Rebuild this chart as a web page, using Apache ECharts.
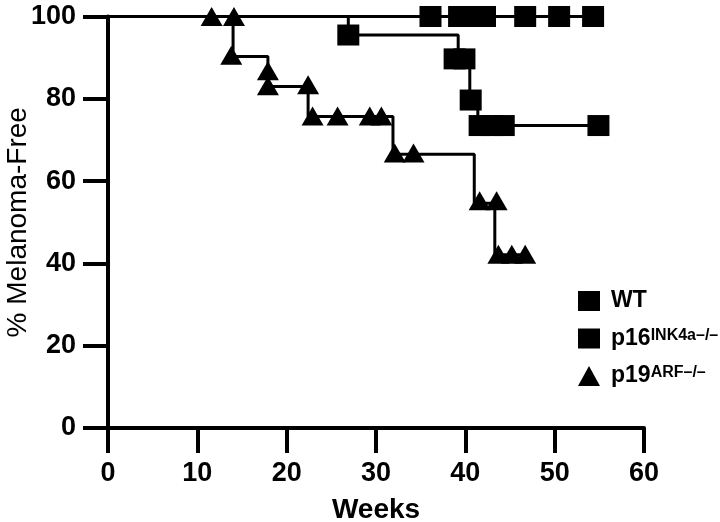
<!DOCTYPE html>
<html><head><meta charset="utf-8">
<script src="https://cdn.jsdelivr.net/npm/echarts@6/dist/echarts.min.js"></script>
<style>html,body{margin:0;padding:0;background:#fff}#c{width:720px;height:522px}</style>
</head><body><div id="c"></div>
<script>
const xTicks = [0, 10, 20, 30, 40, 50, 60];
const yTicks = [0, 20, 40, 60, 80, 100];
const seriesNames = ['WT', 'p16', 'p19'];
const legendMain = {WT: 'WT', p16: 'p16', p19: 'p19'};
const legendSup = {WT: '', p16: 'INK4a\u2013/\u2013', p19: 'ARF\u2013/\u2013'};
const wtCurve = [[0, 100], [54.3, 100]];
const wtMarks = [[36.1, 100], [39.3, 100], [40.7, 100], [42.2, 100], [46.7, 100], [50.5, 100], [54.3, 100]];
const p16Curve = [[0, 100], [26.9, 95.5], [39.2, 89.7], [40.5, 79.7], [41.4, 73.5], [54.9, 73.5]];
const p16Marks = [[26.9, 95.5], [38.8, 89.7], [39.9, 89.7], [40.6, 79.7], [41.6, 73.5], [43.0, 73.5], [44.3, 73.5], [54.9, 73.5]];
const p19Curve = [[0, 100], [14.0, 90.3], [17.9, 83.0], [22.4, 75.7], [31.9, 66.5], [41.0, 54.6], [43.3, 42.1], [46.7, 42.1]];
const p19Marks = [[11.6, 100], [14.1, 100], [13.8, 90.6], [17.9, 86.8], [17.9, 83.2], [22.4, 83.4], [22.9, 75.8], [25.7, 75.8], [29.3, 75.8], [30.6, 75.8], [32.1, 66.8], [34.2, 66.8], [41.6, 55.2], [43.5, 55.2], [43.7, 42.2], [45.2, 42.2], [46.7, 42.2]];

const FONT = "'Liberation Sans', Arial, Helvetica, sans-serif";
const chart = echarts.init(document.getElementById('c'), null, {renderer: 'canvas'});

function curve(data) {
  return {type: 'line', data: data, step: 'end', showSymbol: false, symbol: 'none', clip: false,
    lineStyle: {color: '#000', width: 3}, z: 2, silent: true, animation: false};
}
function marks(name, data, symbol, size) {
  return {type: 'scatter', name: name, data: data, symbol: symbol, symbolSize: size, clip: false,
    itemStyle: {color: '#000', opacity: 1}, z: 3, silent: true, animation: false};
}

chart.setOption({
  animation: false,
  backgroundColor: '#fff',
  grid: {left: 108, right: 76, top: 16.5, bottom: 94, containLabel: false, outerBoundsMode: 'none'},
  xAxis: {
    type: 'value', min: xTicks[0], max: xTicks[xTicks.length - 1], interval: 10,
    name: 'Weeks', nameLocation: 'middle', nameGap: 68, nameMoveOverlap: false,
    nameTextStyle: {fontFamily: FONT, fontWeight: 'bold', fontSize: 28, color: '#000'},
    axisLine: {show: true, lineStyle: {color: '#000', width: 4}},
    axisTick: {show: true, length: 25, lineStyle: {color: '#000', width: 4}},
    axisLabel: {margin: 32, fontFamily: FONT, fontWeight: 'bold', fontSize: 27, color: '#000'},
    splitLine: {show: false}
  },
  yAxis: {
    type: 'value', min: yTicks[0], max: yTicks[yTicks.length - 1], interval: 20,
    name: '% Melanoma-Free', nameLocation: 'middle', nameGap: 76, nameMoveOverlap: false,
    nameTextStyle: {fontFamily: FONT, fontWeight: 'normal', fontSize: 28, color: '#000'},
    axisLine: {show: true, lineStyle: {color: '#000', width: 4}},
    axisTick: {show: true, length: 25, lineStyle: {color: '#000', width: 4}},
    axisLabel: {margin: 32, fontFamily: FONT, fontWeight: 'bold', fontSize: 27, color: '#000'},
    splitLine: {show: false}
  },
  legend: {
    orient: 'vertical', left: 573, top: 284.5, itemWidth: 22, itemHeight: 20, itemGap: 14.5,
    data: [{name: seriesNames[0], icon: 'rect'}, {name: seriesNames[1], icon: 'rect'}, {name: seriesNames[2], icon: 'triangle'}],
    selectedMode: false,
    formatter: function (n) {
      return '{m|' + legendMain[n] + '}' + (legendSup[n] ? '{s|' + legendSup[n] + '}' : '');
    },
    textStyle: {
      color: '#000', fontFamily: FONT, fontWeight: 'bold', fontSize: 23,
      rich: {
        m: {fontFamily: FONT, fontWeight: 'bold', fontSize: 23, lineHeight: 22, color: '#000', padding: [0, 0, 0, 6]},
        s: {fontFamily: FONT, fontWeight: 'bold', fontSize: 16, lineHeight: 10, color: '#000', verticalAlign: 'top'}
      }
    }
  },
  series: [
    curve(wtCurve), curve(p16Curve), curve(p19Curve),
    marks(seriesNames[0], wtMarks, 'rect', [22, 21]),
    marks(seriesNames[1], p16Marks, 'rect', [22, 21]),
    marks(seriesNames[2], p19Marks, 'triangle', [22, 19])
  ]
});
</script></body></html>
